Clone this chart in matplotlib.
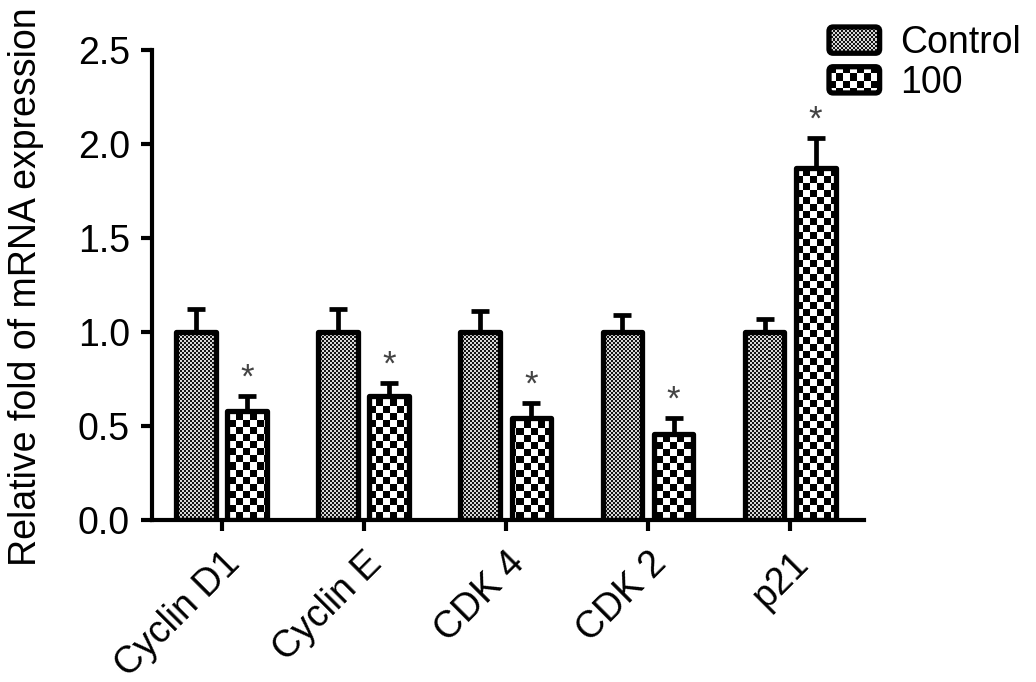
import numpy as np
import matplotlib
matplotlib.use('Agg')
import matplotlib.pyplot as plt
from matplotlib.legend_handler import HandlerBase
from matplotlib.image import BboxImage
from matplotlib.transforms import Bbox, TransformedBbox
from matplotlib.patches import FancyBboxPatch, Patch

plt.rcParams['font.family'] = ['Liberation Sans', 'DejaVu Sans']

genes = ['Cyclin D1', 'Cyclin E', 'CDK 4', 'CDK 2', 'p21']
control = [1.0, 1.0, 1.0, 1.0, 1.0]
control_err = [0.12, 0.12, 0.11, 0.09, 0.07]
treated = [0.58, 0.66, 0.54, 0.46, 1.87]
treated_err = [0.08, 0.07, 0.08, 0.08, 0.16]
series_names = ['Control', '100']

DPI = 100
FS = 27


def checker(h, w, cell, lo=0.0, hi=1.0):
    r, c = np.indices((h, w))
    v = np.where((r // cell + c // cell) % 2 == 1, hi, lo).astype(float)
    return np.dstack([v, v, v])


def texture(h, w, kind):
    if kind == 'fine':
        return checker(h, w, 2, 0.08, 0.85)
    return checker(h, w, 7)


class TextureHandler(HandlerBase):
    def __init__(self, kind):
        super().__init__()
        self.kind = kind

    def create_artists(self, legend, orig_handle, xdescent, ydescent,
                       width, height, fontsize, trans):
        x0, y0 = -xdescent, -ydescent
        box = FancyBboxPatch((x0, y0), width, height,
                             boxstyle='round,pad=0,rounding_size=3',
                             fc='none', ec='black', lw=3.8, transform=trans)
        img = BboxImage(TransformedBbox(Bbox.from_bounds(x0, y0, width, height), trans),
                        interpolation='nearest')
        pw = int(round(width * DPI / 72))
        ph = int(round(height * DPI / 72))
        img.set_data(texture(ph, pw, self.kind))
        img.set_clip_path(box)
        return [img, box]


fig = plt.figure(figsize=(10.36, 6.82), dpi=DPI)
ax = fig.add_axes([152 / 1036, 162 / 682, 712 / 1036, 470 / 682])

x = np.arange(len(genes))
w = 0.28
off = 0.18
xlim = (-0.49, 4.52)
ylim = (0, 2.5)

ax_w, ax_h = 712, 470
tex_c = texture(ax_h, ax_w, 'fine')
tex_t = texture(ax_h, ax_w, 'coarse')

ax.errorbar(x - off, control, yerr=[np.zeros(5), control_err], fmt='none',
            ecolor='black', elinewidth=3.4, capsize=6.5, capthick=3.4, zorder=1)
ax.errorbar(x + off, treated, yerr=[np.zeros(5), treated_err], fmt='none',
            ecolor='black', elinewidth=3.4, capsize=6.5, capthick=3.4, zorder=1)

bars_c = ax.bar(x - off, control, w, facecolor='none', edgecolor='black',
                linewidth=3.8, joinstyle='round', zorder=3)
bars_t = ax.bar(x + off, treated, w, facecolor='none', edgecolor='black',
                linewidth=3.8, joinstyle='round', zorder=3)

for bars, tex in [(bars_c, tex_c), (bars_t, tex_t)]:
    for b in bars:
        im = ax.imshow(tex, extent=(xlim[0], xlim[1], ylim[0], ylim[1]),
                       aspect='auto', interpolation='nearest', zorder=2)
        im.set_clip_path(b)

for xi, v, e in zip(x + off, treated, treated_err):
    ax.text(xi, v + e + 0.045, '*', ha='center', va='baseline',
            fontsize=25, color='#444444')

ax.set_xlim(xlim)
ax.set_ylim(ylim)
ax.set_yticks([0.0, 0.5, 1.0, 1.5, 2.0, 2.5])
ax.set_yticklabels(['0.0', '0.5', '1.0', '1.5', '2.0', '2.5'], fontsize=FS)
ax.set_xticks(x)
ax.set_xticklabels(genes, fontsize=FS, rotation=45, ha='right',
                   rotation_mode='anchor')
ax.tick_params(axis='both', width=3, length=8, pad=8)
ax.tick_params(axis='x', pad=10)
for s in ['top', 'right']:
    ax.spines[s].set_visible(False)
for s in ['left', 'bottom']:
    ax.spines[s].set_linewidth(3)
ax.set_ylabel('Relative fold of mRNA expression', fontsize=FS)
ax.yaxis.set_label_coords(-0.152, 0.496)

handles = [Patch(label=series_names[0]), Patch(label=series_names[1])]
leg = fig.legend(handles=handles, loc='upper right', bbox_to_anchor=(1.0, 0.985),
                 frameon=False, fontsize=FS, handlelength=1.35, handleheight=0.7,
                 handletextpad=0.55, labelspacing=0.1, borderaxespad=0,
                 handler_map={handles[0]: TextureHandler('fine'),
                              handles[1]: TextureHandler('coarse')})

fig.savefig('out.png', dpi=DPI)
